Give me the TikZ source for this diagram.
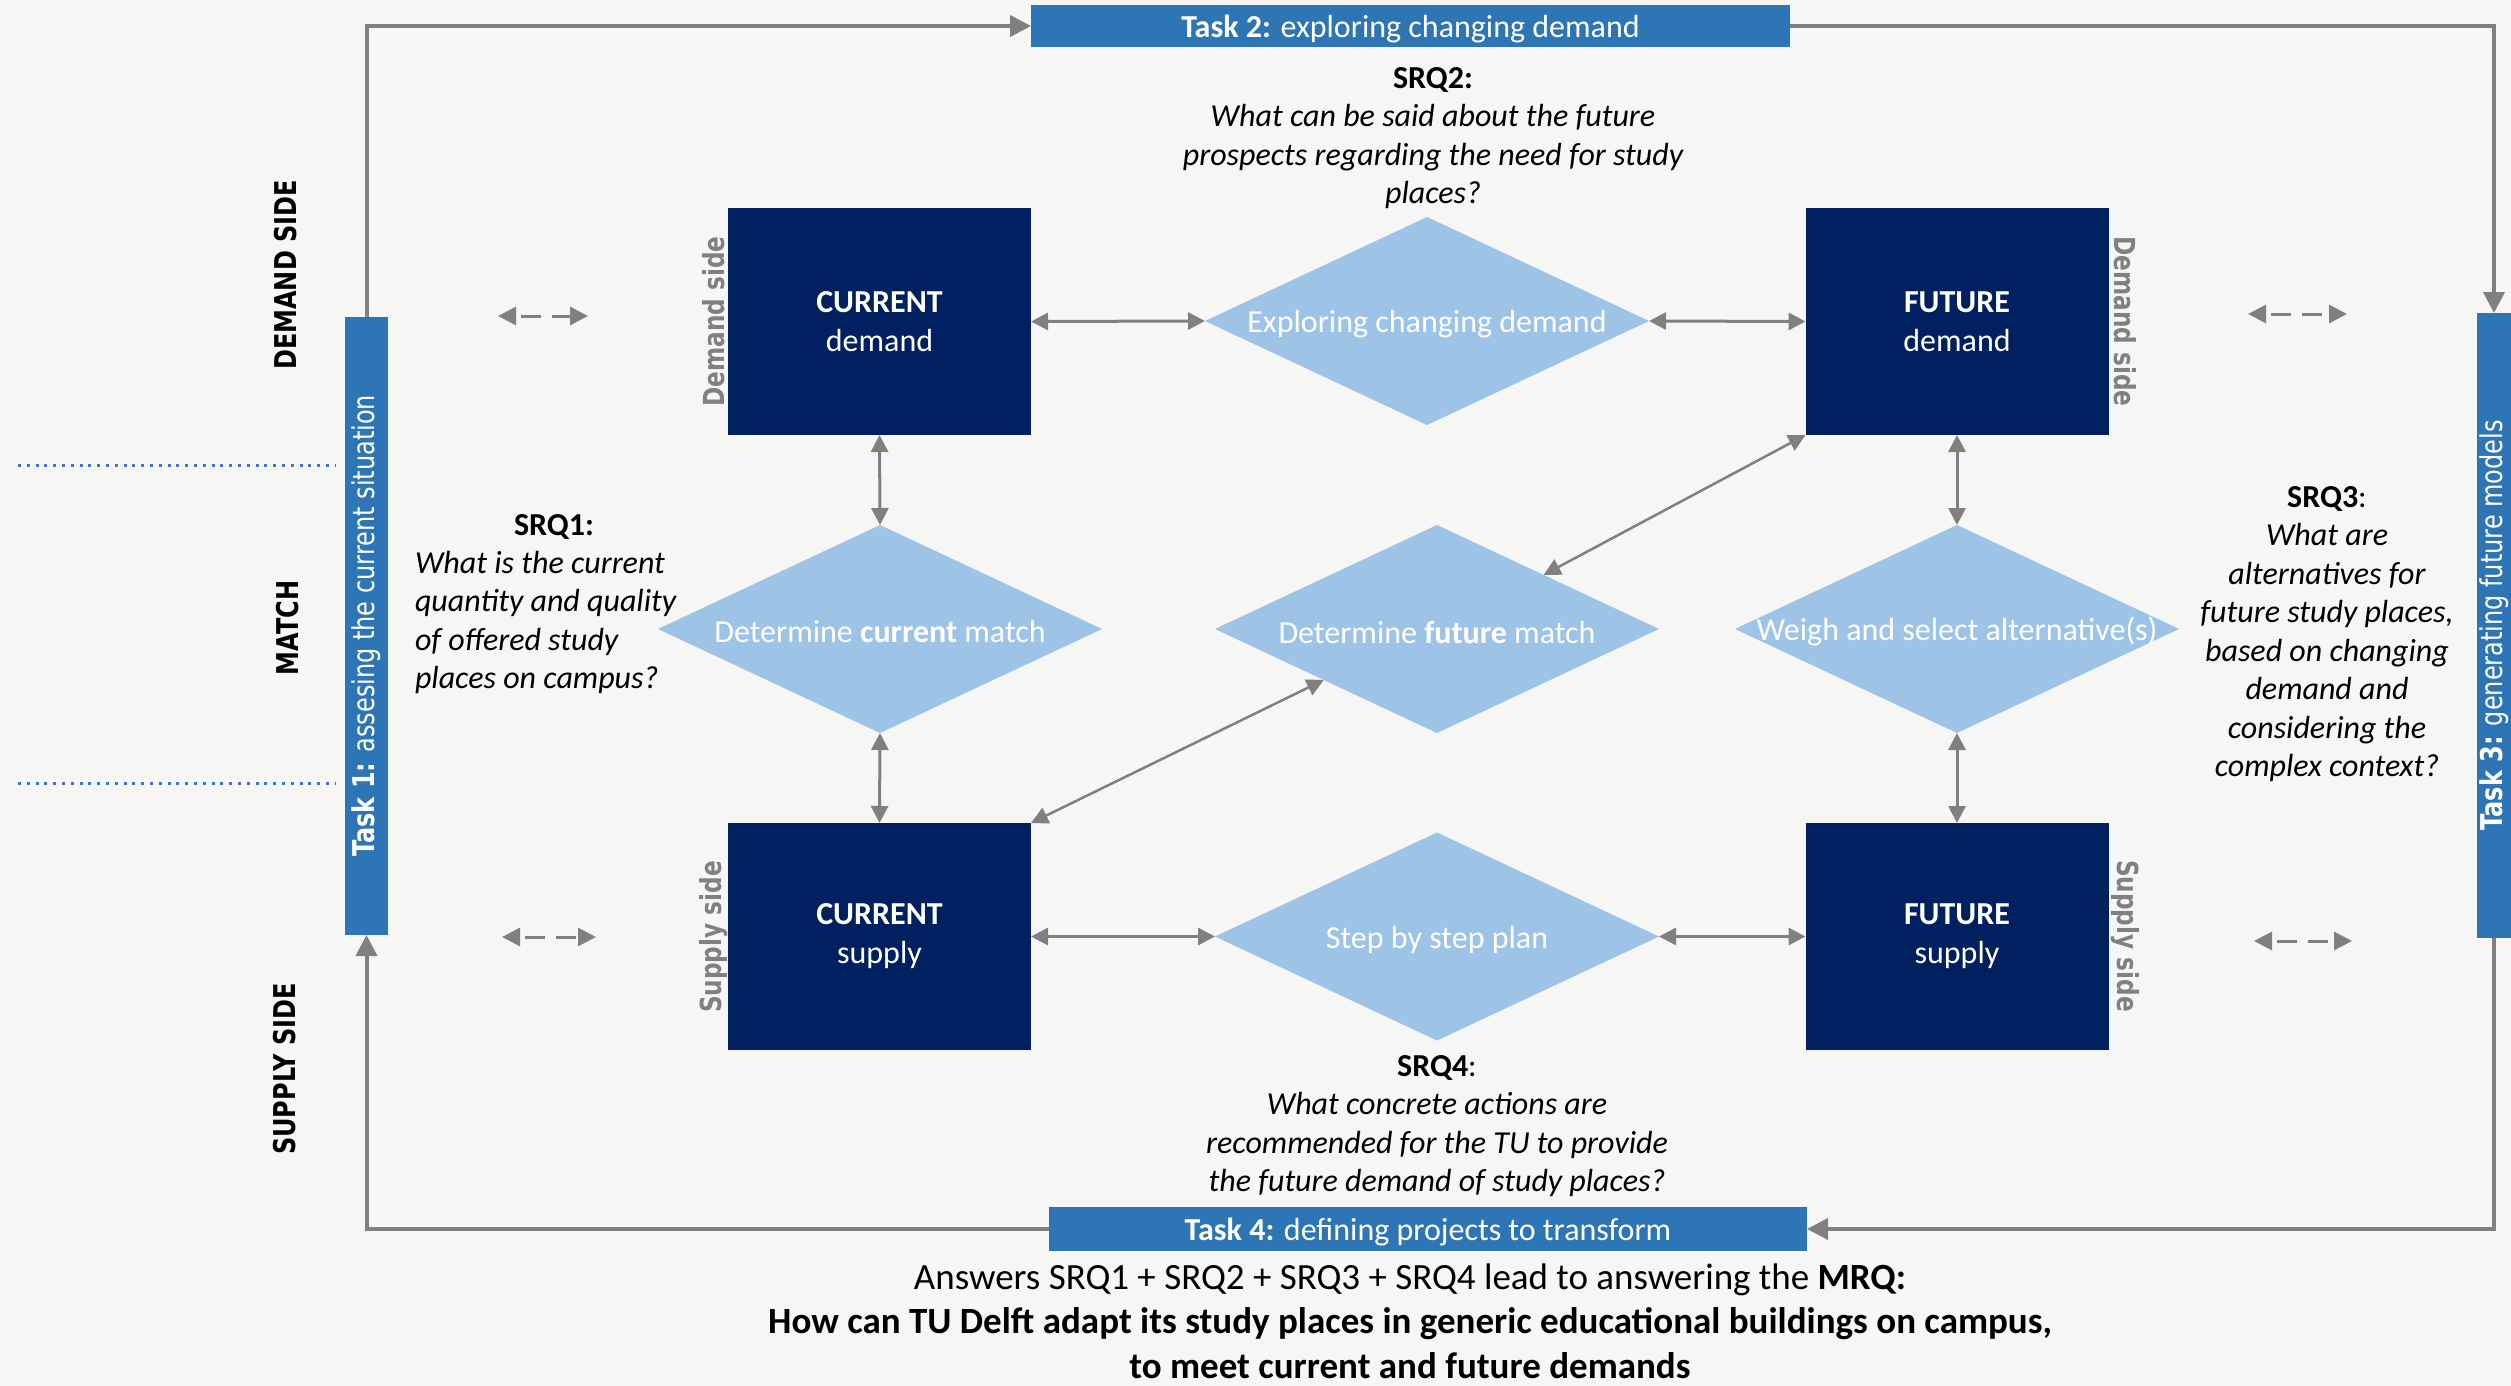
\documentclass[tikz,border=0pt]{standalone}
\usepackage{fontspec}
\setmainfont{Carlito}
\newfontfamily\sidefont[FakeStretch=0.8]{DejaVu Sans}
\usetikzlibrary{arrows.meta, positioning, shapes.geometric, calc}

\definecolor{navybox}{HTML}{002060}
\definecolor{paleblue}{HTML}{9DC3E6}
\definecolor{taskblue}{HTML}{2E75B6}
\definecolor{linkgray}{HTML}{808080}
\definecolor{dotblue}{HTML}{4472C4}
\definecolor{paper}{HTML}{F6F6F4}

% zero-width text so the diamond keeps its own size
\newcommand{\lowered}[1]{\raisebox{-3pt}[\height][\depth]{#1}}
\newcommand{\nowidth}[1]{\makebox[0pt]{\lowered{#1}}}
\newcommand{\srqhead}[1]{{\normalfont\bfseries #1}}

\begin{document}
\begin{tikzpicture}[
    x=1pt, y=-1pt,
    every node/.style={font=\fontsize{32}{39}\selectfont, inner sep=0pt, outer sep=0pt},
    box/.style={fill=navybox, text=white, minimum width=303pt, minimum height=227pt, align=center},
    decision/.style={diamond, fill=paleblue, text=white, minimum width=444pt, minimum height=208pt},
    taskbar/.style={fill=taskblue, text=white},
    question/.style={font=\fontsize{32}{38.5}\selectfont\itshape},
    sidelabel/.style={font=\sidefont\fontsize{29}{34}\selectfont\bfseries, text=linkgray},
    zone/.style={font=\sidefont\fontsize{30}{36}\selectfont\bfseries, rotate=90},
    link/.style={{Triangle[length=17pt, width=17pt]}-{Triangle[length=17pt, width=17pt]}, draw=linkgray, line width=3pt},
    taskflow/.style={-{Triangle[length=21pt, width=21pt]}, draw=linkgray, line width=4pt},
    twoway/.style={{Triangle[length=18pt, width=18pt]}-{Triangle[length=18pt, width=18pt]}, draw=linkgray, line width=3pt, dash pattern=on 20pt off 11pt, dash phase=25pt},
    divider/.style={draw=dotblue, line width=3pt, dash pattern=on 3pt off 5.8pt},
]
% canvas (pixel units, y downwards)
\path[use as bounding box, fill=paper] (0,0) rectangle (2511,1386);

% Zone labels and dividers on the far left
\node[zone] (zdemand) at (286,275) {DEMAND SIDE};
\node[zone] (zmatch) at (288,628) {MATCH};
\node[zone] (zsupply) at (285,1069) {SUPPLY SIDE};
\draw[divider] (18,465) -- (335,465);
\draw[divider] (18,783) -- (335,783);

% Task bars
\node[taskbar, minimum width=759pt, minimum height=42pt] (task2) at (1410.5,26) {\lowered{\textbf{Task 2:} exploring changing demand}};
\node[taskbar, minimum width=758pt, minimum height=44pt] (task4) at (1428,1229) {\lowered{\textbf{Task 4:} defining projects to transform}};
\node[taskbar, rotate=90, minimum width=618pt, minimum height=43pt, font=\sidefont\fontsize{30}{36}\selectfont] (task1) at (366.5,626) {\textbf{Task 1:} assesing the current situation};
\node[taskbar, rotate=90, minimum width=625pt, minimum height=34pt, font=\sidefont\fontsize{30}{36}\selectfont] (task3) at (2494,625.5) {\textbf{Task 3:} generating future models};

% Task loop
\draw[taskflow] (task1.east) |- (task2.west);
\draw[taskflow] (task2.east) -| (task3.east);
\draw[taskflow] (task3.west) |- (task4.east);
\draw[taskflow] (task4.west) -| (task1.west);

% Current / future boxes
\node[box] (curdem) at (879.5,321.5) {\textbf{CURRENT}\\demand};
\node[box] (futdem) at (1957,321.5) {\textbf{FUTURE}\\demand};
\node[box] (cursup) at (879.5,936.5) {\textbf{CURRENT}\\supply};
\node[box] (futsup) at (1957,936.5) {\textbf{FUTURE}\\supply};

\node[sidelabel, rotate=90] (dsleft) at (714,321.5) {Demand side};
\node[sidelabel, rotate=-90] (dsright) at (2125,321.5) {Demand side};
\node[sidelabel, rotate=90] (ssleft) at (714,937) {Supply side};
\node[sidelabel, rotate=-90] (ssright) at (2125,936) {Supply side};

% Steps
\node[decision] (explore) at (1427,321) {\nowidth{Exploring changing demand}};
\node[decision] (curmatch) at (880,629) {\nowidth{Determine \textbf{current} match}};
\node[decision] (futmatch) at (1437,629) {\nowidth{Determine \textbf{future} match}};
\node[decision] (weigh) at (1957,629) {\nowidth{Weigh and select alternative(s)}};
\node[decision] (stepplan) at (1437,936.5) {\nowidth{Step by step plan}};

% Links
\draw[link] (curdem.east) -- (explore.west);
\draw[link] (explore.east) -- (futdem.west);
\draw[link] (cursup.east) -- (stepplan.west);
\draw[link] (stepplan.east) -- (futsup.west);
\draw[link] (curdem.south) -- (curmatch.north);
\draw[link] (curmatch.south) -- (cursup.north);
\draw[link] (futdem.south) -- (weigh.north);
\draw[link] (weigh.south) -- (futsup.north);
\draw[link, line width=2.5pt] (futdem.south west) -- ($(futmatch.north)!0.48!(futmatch.east)$);
\draw[link, line width=2.5pt] (cursup.north east) -- ($(futmatch.west)!0.49!(futmatch.south)$);

% Side arrows
\coordinate (dl1) at (498,316);  \coordinate (dl2) at (588,316);
\coordinate (dr1) at (2248,314); \coordinate (dr2) at (2347,314);
\coordinate (sl1) at (502,937);  \coordinate (sl2) at (596,937);
\coordinate (sr1) at (2254,941); \coordinate (sr2) at (2352,941);
\draw[twoway] (dl1) -- (dl2);
\draw[twoway] (dr1) -- (dr2);
\draw[twoway] (sl1) -- (sl2);
\draw[twoway] (sr1) -- (sr2);

% Sub research questions
\node[question, align=center] (srq2) at (1433,138) {\srqhead{SRQ2:}\\What can be said about the future\\prospects regarding the need for study\\places?};
\node[font=\fontsize{32}{38.5}\selectfont\bfseries] (srq1head) at (554,527) {SRQ1:};
\node[question, align=left, anchor=west] (srq1) at (415,622.5) {What is the current\\quantity and quality\\of offered study\\places on campus?};
\node[question, align=center] (srq3) at (2327,634) {\srqhead{SRQ3}\upshape:\\What are\\alternatives for\\future study places,\\based on changing\\demand and\\considering the\\complex context?};
\node[question, align=center] (srq4) at (1437,1126) {\srqhead{SRQ4}\upshape:\\What concrete actions are\\recommended for the TU to provide\\the future demand of study places?};

% Main research question
\node[align=center, font=\fontsize{37}{44.5}\selectfont] (mrq) at (1410,1321) {Answers SRQ1 + SRQ2 + SRQ3 + SRQ4 lead to answering the \textbf{MRQ:}\\\textbf{How can TU Delft adapt its study places in generic educational buildings on campus,}\\\textbf{to meet current and future demands}};
\end{tikzpicture}
\end{document}
